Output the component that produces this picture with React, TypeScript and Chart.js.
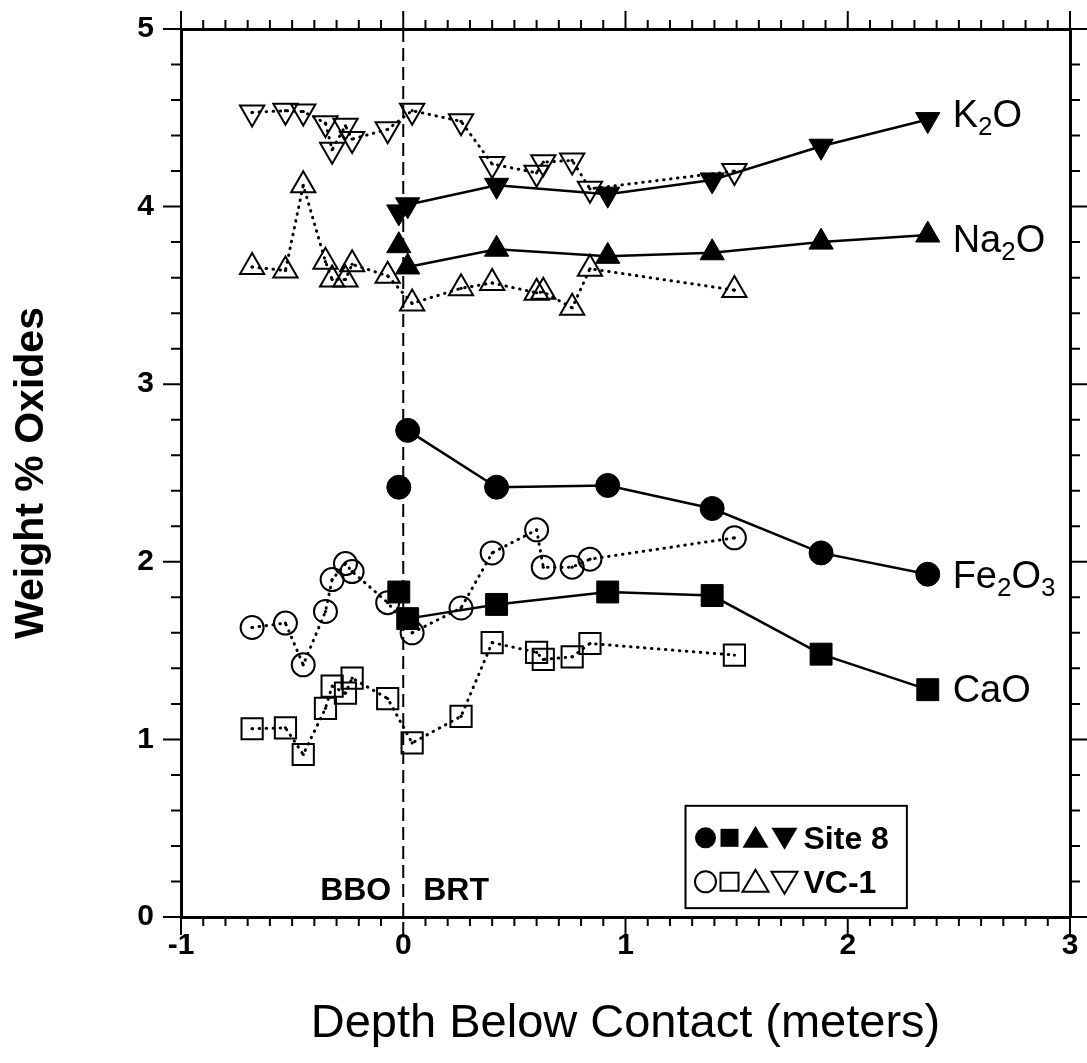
import React, { useEffect, useRef } from 'react';
import { Chart, registerables } from 'chart.js';

Chart.register(...registerables);

const FONT = "'Liberation Sans', Arial, Helvetica, sans-serif";

// Axis ranges / ticks
const xMin = -1;
const xMax = 3;
const yMin = 0;
const yMax = 5;

// Site 8 (filled symbols). First sample (BBO side) is not joined to the line.
const site8Depth = [-0.02, 0.02, 0.42, 0.92, 1.39, 1.88, 2.36];
const site8K2O = [3.97, 4.01, 4.12, 4.07, 4.15, 4.34, 4.49];
const site8Na2O = [3.78, 3.66, 3.76, 3.72, 3.74, 3.8, 3.84];
const site8Fe2O3 = [2.42, 2.74, 2.42, 2.43, 2.3, 2.05, 1.93];
const site8CaO = [1.83, 1.68, 1.76, 1.83, 1.81, 1.48, 1.28];

// VC-1 (open symbols)
const vc1Depth = [-0.68, -0.53, -0.45, -0.35, -0.32, -0.26, -0.23, -0.07, 0.04, 0.26, 0.4, 0.6, 0.63, 0.76, 0.84, 1.49];
const vc1K2O = [4.53, 4.54, 4.535, 4.47, 4.32, 4.455, 4.38, 4.435, 4.54, 4.48, 4.24, 4.19, 4.25, 4.26, 4.1, 4.2];
const vc1Na2O = [3.66, 3.64, 4.12, 3.69, 3.59, 3.59, 3.675, 3.61, 3.455, 3.54, 3.57, 3.515, 3.52, 3.43, 3.65, 3.53];
const vc1Fe2O3 = [1.63, 1.655, 1.42, 1.72, 1.9, 1.99, 1.945, 1.77, 1.6, 1.74, 2.05, 2.18, 1.97, 1.97, 2.015, 2.135];
const vc1CaO = [1.06, 1.065, 0.915, 1.175, 1.3, 1.26, 1.345, 1.23, 0.98, 1.13, 1.545, 1.49, 1.45, 1.465, 1.54, 1.475];

// Oxide labels (main text, subscript pairs)
const oxideLabels = [
  { parts: [['K', false], ['2', true], ['O', false]], x: 2.472, y: 4.447 },
  { parts: [['Na', false], ['2', true], ['O', false]], x: 2.472, y: 3.743 },
  { parts: [['Fe', false], ['2', true], ['O', false], ['3', true]], x: 2.472, y: 1.855 },
  { parts: [['CaO', false]], x: 2.472, y: 1.212 },
];

function site8Points(vals: number[]) {
  const pts: any[] = [{ x: site8Depth[0], y: vals[0] }, { x: site8Depth[0], y: null }];
  for (let i = 1; i < vals.length; i++) pts.push({ x: site8Depth[i], y: vals[i] });
  return pts;
}
function vc1Points(vals: number[]) {
  return vals.map((v, i) => ({ x: vc1Depth[i], y: v }));
}

function fixBox(w: number | null, h: number | null) {
  return (s: any) => {
    if (w !== null) s.width = w;
    if (h !== null) s.height = h;
    s.paddingTop = 0;
    s.paddingBottom = 0;
    s.paddingLeft = 0;
    s.paddingRight = 0;
  };
}

const decorPlugin = {
  id: 'decor',
  beforeDatasetsDraw(chart: any) {
    const { ctx, chartArea, scales } = chart;
    const px = scales.x.getPixelForValue(0);
    ctx.save();
    ctx.strokeStyle = '#000';
    ctx.lineWidth = 2;
    ctx.setLineDash([13, 6]);
    ctx.beginPath();
    ctx.moveTo(px, chartArea.top);
    ctx.lineTo(px, chartArea.bottom + 18);
    ctx.stroke();
    ctx.restore();
  },
  afterDatasetsDraw(chart: any) {
    const { ctx } = chart;
    ctx.save();
    ctx.fillStyle = '#000';
    chart.data.datasets.forEach((ds: any, i: number) => {
      if (!ds.centerDot) return;
      const meta = chart.getDatasetMeta(i);
      meta.data.forEach((el: any) => {
        ctx.beginPath();
        ctx.arc(el.x, el.y, 1.6, 0, Math.PI * 2);
        ctx.fill();
      });
    });
    ctx.restore();
  },
  afterDraw(chart: any) {
    const { ctx, chartArea, scales } = chart;
    const xs = scales.x;
    const ys = scales.y;
    ctx.save();
    ctx.strokeStyle = '#000';
    ctx.lineWidth = 2;
    ctx.lineCap = 'butt';
    // x ticks (minor 0.1, major 1)
    for (let i = 0; i <= 40; i++) {
      const v = xMin + i / 10;
      const p = xs.getPixelForValue(v);
      const major = i % 10 === 0;
      const len = major ? 18 : 9;
      ctx.beginPath();
      if (!(major && Math.abs(v) < 1e-9)) {
        ctx.moveTo(p, chartArea.bottom);
        ctx.lineTo(p, chartArea.bottom + len);
      }
      ctx.moveTo(p, chartArea.top);
      ctx.lineTo(p, chartArea.top - len);
      ctx.stroke();
    }
    // y ticks (minor 0.2, major 1)
    for (let i = 0; i <= 25; i++) {
      const v = yMin + i / 5;
      const p = ys.getPixelForValue(v);
      const major = i % 5 === 0;
      const len = major ? 18 : 10;
      ctx.beginPath();
      ctx.moveTo(chartArea.left, p);
      ctx.lineTo(chartArea.left - len, p);
      ctx.moveTo(chartArea.right, p);
      ctx.lineTo(chartArea.right + len, p);
      ctx.stroke();
    }

    // Oxide labels
    ctx.fillStyle = '#000';
    ctx.textBaseline = 'alphabetic';
    ctx.textAlign = 'left';
    oxideLabels.forEach((lab) => {
      let x = xs.getPixelForValue(lab.x);
      const y = ys.getPixelForValue(lab.y);
      lab.parts.forEach(([t, sub]: any) => {
        ctx.font = sub ? `26px ${FONT}` : `38px ${FONT}`;
        ctx.fillText(t, x, sub ? y + 8 : y);
        x += ctx.measureText(t).width;
      });
    });

    // BBO / BRT
    ctx.font = `bold 32px ${FONT}`;
    const x0 = xs.getPixelForValue(0);
    const yb = ys.getPixelForValue(0.096);
    ctx.textAlign = 'right';
    ctx.fillText('BBO', x0 - 12, yb);
    ctx.textAlign = 'left';
    ctx.fillText('BRT', x0 + 20, yb);

    // Legend box
    const lx1 = xs.getPixelForValue(1.27);
    const lx2 = xs.getPixelForValue(2.266);
    const ly1 = ys.getPixelForValue(0.626);
    const ly2 = ys.getPixelForValue(0.05);
    ctx.lineWidth = 2;
    ctx.setLineDash([]);
    ctx.fillStyle = '#fff';
    ctx.fillRect(lx1, ly1, lx2 - lx1, ly2 - ly1);
    ctx.strokeRect(lx1, ly1, lx2 - lx1, ly2 - ly1);

    const drawSym = (kind: string, cx: number, cy: number, filled: boolean) => {
      ctx.beginPath();
      if (kind === 'circle') {
        ctx.arc(cx, cy, 10.5, 0, Math.PI * 2);
      } else if (kind === 'square') {
        ctx.rect(cx - 9, cy - 9, 18, 18);
      } else if (kind === 'up') {
        ctx.moveTo(cx, cy - 12);
        ctx.lineTo(cx + 13, cy + 10);
        ctx.lineTo(cx - 13, cy + 10);
        ctx.closePath();
      } else {
        ctx.moveTo(cx, cy + 12);
        ctx.lineTo(cx + 13, cy - 10);
        ctx.lineTo(cx - 13, cy - 10);
        ctx.closePath();
      }
      if (filled) {
        ctx.fillStyle = '#000';
        ctx.fill();
      } else {
        ctx.lineWidth = 2;
        ctx.stroke();
      }
    };
    const rows = [
      { filled: true, text: 'Site 8', cy: ly1 + 32 },
      { filled: false, text: 'VC-1', cy: ly1 + 76 },
    ];
    rows.forEach((r) => {
      const sx = lx1 + 20;
      drawSym('circle', sx, r.cy, r.filled);
      drawSym('square', sx + 24, r.cy, r.filled);
      drawSym('up', sx + 50, r.cy, r.filled);
      drawSym('down', sx + 79, r.cy, r.filled);
      ctx.fillStyle = '#000';
      ctx.font = `bold 32px ${FONT}`;
      ctx.textAlign = 'left';
      ctx.fillText(r.text, sx + 98, r.cy + 11);
    });
    ctx.restore();
  },
};

export default function App() {
  const ref = useRef<HTMLCanvasElement | null>(null);

  useEffect(() => {
    if (!ref.current) return;
    const solid = { borderColor: '#000', borderWidth: 2.5, showLine: true, spanGaps: false };
    const dotted = {
      borderColor: '#000',
      borderWidth: 3,
      borderDash: [0.5, 6.5],
      borderCapStyle: 'round',
      showLine: true,
    };
    const filledPt = { pointBackgroundColor: '#000', pointBorderColor: '#000', pointBorderWidth: 1 };
    const openPt = { pointBackgroundColor: 'rgba(0,0,0,0)', pointBorderColor: '#000', pointBorderWidth: 2 };

    const datasets: any[] = [
      { label: 'Site 8 K2O', data: site8Points(site8K2O), ...solid, ...filledPt, pointStyle: 'triangle', pointRotation: 180, pointRadius: 14 },
      { label: 'Site 8 Na2O', data: site8Points(site8Na2O), ...solid, ...filledPt, pointStyle: 'triangle', pointRadius: 14 },
      { label: 'Site 8 Fe2O3', data: site8Points(site8Fe2O3), ...solid, ...filledPt, pointStyle: 'circle', pointRadius: 12 },
      { label: 'Site 8 CaO', data: site8Points(site8CaO), ...solid, ...filledPt, pointStyle: 'rect', pointRadius: 15.5 },
      { label: 'VC-1 K2O', data: vc1Points(vc1K2O), ...dotted, ...openPt, pointStyle: 'triangle', pointRotation: 180, pointRadius: 14, centerDot: true },
      { label: 'VC-1 Na2O', data: vc1Points(vc1Na2O), ...dotted, ...openPt, pointStyle: 'triangle', pointRadius: 14, centerDot: true },
      { label: 'VC-1 Fe2O3', data: vc1Points(vc1Fe2O3), ...dotted, ...openPt, pointStyle: 'circle', pointRadius: 11.5, centerDot: true },
      { label: 'VC-1 CaO', data: vc1Points(vc1CaO), ...dotted, ...openPt, pointStyle: 'rect', pointRadius: 15, centerDot: true },
    ];

    const frameGrid = { display: true, drawOnChartArea: false, drawTicks: false, color: '#000' };
    const frameBorder = { display: true, width: 3, color: '#000' };

    const chart = new Chart(ref.current, {
      type: 'scatter',
      data: { datasets },
      options: {
        animation: false,
        responsive: false,
        devicePixelRatio: 1,
        layout: { padding: 0 },
        plugins: { legend: { display: false }, tooltip: { enabled: false } },
        scales: {
          x: {
            type: 'linear',
            position: 'bottom',
            min: xMin,
            max: xMax,
            grid: frameGrid,
            border: frameBorder,
            ticks: {
              stepSize: 1,
              padding: 0,
              color: '#000',
              font: { family: FONT, size: 30, weight: 'bold', lineHeight: 1.93 },
              callback: (v: any) => String(v),
            },
            title: {
              display: true,
              text: 'Depth Below Contact (meters)',
              color: '#000',
              font: { family: FONT, size: 47 },
              padding: { top: 0, bottom: 11 },
            },
            afterFit: fixBox(null, 146),
          },
          x2: {
            type: 'linear',
            position: 'top',
            min: xMin,
            max: xMax,
            grid: frameGrid,
            border: frameBorder,
            ticks: { display: false },
            afterFit: fixBox(null, 29),
          },
          y: {
            type: 'linear',
            position: 'left',
            min: yMin,
            max: yMax,
            grid: frameGrid,
            border: frameBorder,
            ticks: {
              stepSize: 1,
              padding: 27,
              color: '#000',
              font: { family: FONT, size: 30, weight: 'bold' },
              callback: (v: any) => String(v),
            },
            title: {
              display: true,
              text: 'Weight % Oxides',
              color: '#000',
              font: { family: FONT, size: 41, weight: 'bold' },
              padding: { top: 7, bottom: 0 },
            },
            afterFit: fixBox(181, null),
          },
          y2: {
            type: 'linear',
            position: 'right',
            min: yMin,
            max: yMax,
            grid: frameGrid,
            border: frameBorder,
            ticks: { display: false },
            afterFit: fixBox(13, null),
          },
        },
      } as any,
      plugins: [decorPlugin],
    });
    return () => chart.destroy();
  }, []);

  return (
    <div style={{ position: 'absolute', left: 0, top: 0, width: 1087, height: 1063, background: '#fff' }}>
      <canvas ref={ref} width={1087} height={1063} style={{ display: 'block' }} />
    </div>
  );
}
